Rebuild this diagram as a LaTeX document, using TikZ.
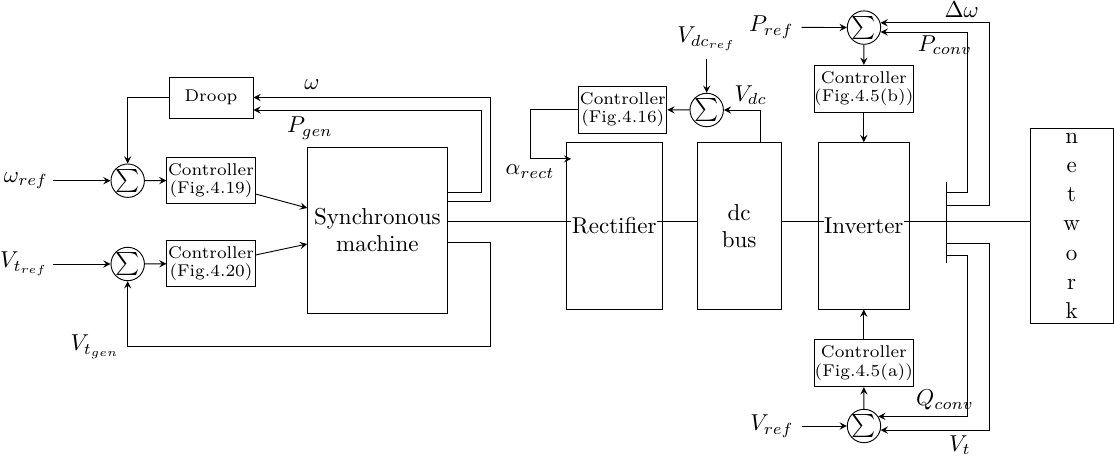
\documentclass[tikz,border=0pt]{standalone}
\usepackage{amsmath,amssymb}
\usetikzlibrary{calc}
\newcommand{\ctrlfont}{\fontsize{7.4}{8}\selectfont}

\begin{document}
\begin{tikzpicture}[x=0.4348pt, y=-0.4348pt, >=stealth,
  sumb/.style = {draw, circle, inner sep=0pt, minimum size=14.5pt},
  ctrl/.style = {draw, align=center, inner sep=0pt, minimum width=38.3pt, minimum height=20.4pt, font=\ctrlfont},
  wctrl/.style = {ctrl, minimum width=43pt},
  blk/.style = {draw, inner sep=0pt, minimum height=72.4pt},
  inl/.style = {anchor=east, inner sep=2pt}]
\useasboundingbox (0,0) rectangle (1114,458);
\coordinate (bus) at (0,221.7);

% generator side
\node[blk, align=center, minimum width=60.6pt, minimum height=72.2pt] (sm) at (377.4,230) {Synchronous\\machine};
\node[ctrl, minimum width=36.5pt, minimum height=17.8pt] (droop) at (211,97.5) {Droop};
\node[ctrl] (c1) at (211,180.5) {Controller\\(Fig.4.19)};
\node[ctrl] (c2) at (211,263.5) {Controller\\(Fig.4.20)};
\node[sumb] (s1) at (127.7,180.7) {$\sum$};
\node[sumb] (s2) at (127.7,264) {$\sum$};
\node[inl] (wref) at (53,180.7) {$\omega_{ref}$};
\node[inl] (vtref) at (53,264) {$V_{t_{ref}}$};
\coordinate (vtg) at (127.7,346.7);
\node[anchor=east] (vtgen) at (vtg) {$V_{t_{gen}}$};
\node (wl) at (312,85) {$\omega$};
\node (pgl) at (310,128) {$P_{gen}$};

\draw[->] (wref) -- (s1);
\draw[->] (vtref) -- (s2);
\draw[->] (s1) -- (c1);
\draw[->] (s2) -- (c2);
\draw[->] (droop.west) -| (s1.north);
\draw[->] ($(c1.east)+(0,13.5)$) -- ($(sm.west)+(0,-22)$);
\draw[->] ($(c2.east)+(0,-8.5)$) -- ($(sm.west)+(0,14)$);
\draw[->] ($(sm.east)+(0,-29)$) -- ++(43,0) |- (droop.east);
\draw[->] ($(sm.east)+(0,-37.3)$) -- ++(34,0) |- ($(droop.east)+(0,12.5)$);
\draw[->] ($(sm.east)+(0,12.7)$) -- ++(43,0) |- (vtg) -- (s2.south);

% dc link
\node[blk, minimum width=42pt] (rect) at (614.3,226) {};
\node[inner sep=0pt] (rectt) at (rect) {Rectifier};
\node[blk, align=center, minimum width=36.4pt] (dcb) at (739.2,226) {dc\\bus};
\node[ctrl] (c3) at (622.8,109.7) {Controller\\(Fig.4.16)};
\node[sumb] (s3) at (706.7,110) {$\sum$};
\node (vdcref) at (706.7,39) {$V_{dc_{ref}}$};
\node (vdcl) at (750.7,95) {$V_{dc}$};
\node (arl) at (530,171.7) {$\alpha_{rect}$};

\draw[->] (vdcref) -- (s3);
\draw[->] ($(dcb.north)+(20.8,0)$) |- (s3.east);
\draw[->] (s3) -- (c3);
\draw[->] (c3.west) -- ++(-48,0) |- ($(rect.north west)+(5.7,16.6)$);

% converter and network
\node[blk, minimum width=39.6pt] (inv) at (863.8,225.9) {};
\node[inner sep=0pt] (invt) at (inv) {Inverter};
\node[draw, align=center, inner sep=0pt, minimum width=36.2pt, minimum height=84.8pt,
  font=\fontsize{10}{12.7}\selectfont] (net) at (1071.7,225.8) {n\\e\\t\\w\\o\\r\\k};
\node[wctrl] (c4) at (863.8,88.8) {Controller\\(Fig.4.5(b))};
\node[wctrl] (c5) at (863.8,363.3) {Controller\\(Fig.4.5(a))};
\node[sumb] (s4) at (864,27.6) {$\sum$};
\node[sumb] (s5) at (864,426) {$\sum$};
\node[anchor=east] (pref) at (801.7,27.3) {$P_{ref}$};
\node[anchor=east] (vref) at (801.7,426) {$V_{ref}$};
\node (dwl) at (961.7,10) {$\Delta\omega$};
\node (pcl) at (945,45) {$P_{conv}$};
\node (qcl) at (945,400) {$Q_{conv}$};
\node (vtl) at (960,445) {$V_t$};
\coordinate (tap) at (946.7,221.7);

\draw (sm.east |- bus) -- (rectt.west |- bus);
\draw (rectt.east |- bus) -- (dcb.west |- bus);
\draw (dcb.east |- bus) -- (invt.west |- bus);
\draw (invt.east |- bus) -- (net.west |- bus);
\draw ($(tap)+(0,-40)$) -- ($(tap)+(0,41.6)$);

\draw[->] (pref) -- (s4);
\draw[->] (vref) -- (s5);
\draw[->] (s4) -- (c4);
\draw[->] (c4) -- (inv);
\draw[->] (s5) -- (c5);
\draw[->] (c5) -- (inv);
\draw[->] ($(tap)+(0,-16.7)$) -- ++(42.3,0) |- (s4.16);
\draw[->] ($(tap)+(0,-29)$) -- ++(21,0) |- (s4.-15);
\draw[->] ($(tap)+(0,21.6)$) -- ++(42.3,0) |- (s5.-14);
\draw[->] ($(tap)+(0,33.3)$) -- ++(21,0) |- (s5.34);
\end{tikzpicture}
\end{document}
